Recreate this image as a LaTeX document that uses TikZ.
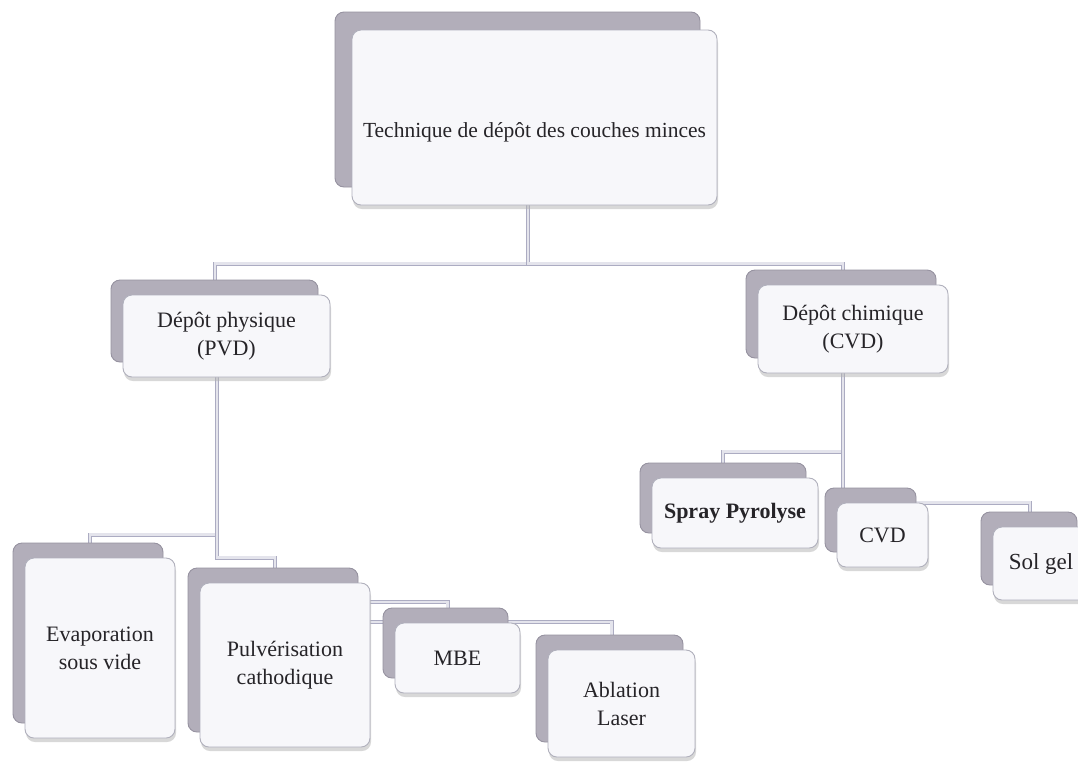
\documentclass[tikz,border=0pt]{standalone}
\usepackage{fontspec}
\setmainfont{Liberation Serif}
\usetikzlibrary{shadows,backgrounds,calc}
\definecolor{backgray}{RGB}{178,174,186}
\definecolor{backedge}{RGB}{150,146,160}
\definecolor{frontfill}{RGB}{247,247,250}
\definecolor{frontedge}{RGB}{176,176,188}
\definecolor{connedge}{RGB}{172,172,194}
\definecolor{connfill}{RGB}{228,228,236}
\definecolor{txt}{RGB}{38,36,40}
\begin{document}
\begin{tikzpicture}[x=1pt,y=-1pt,
  shad/.style 2 args={copy shadow={shadow xshift=#1, shadow yshift=#2, fill=backgray, draw=backedge, line width=0.9pt}},
  stack/.style={shad={-12pt}{15pt}},
  bigstack/.style={shad={-17pt}{18pt}},
  tbox/.style={draw=frontedge, fill=frontfill, line width=0.9pt, rounded corners=9pt,
    drop shadow={shadow xshift=1pt, shadow yshift=-4pt, fill=gray!60, opacity=0.5},
    align=center, text=txt, inner sep=0pt, font=\fontsize{22}{28}\selectfont},
  conn/.style={draw=connedge, line width=0.8pt, double=connfill, double distance=2.4pt}
]
\useasboundingbox (0,0) rectangle (1078,764);

\node[bigstack, tbox, minimum width=365pt, minimum height=175pt,
  font=\fontsize{21.5}{26}\selectfont, text height=39pt, text depth=0pt]
  (main) at (534.5,117.5) {Technique de dépôt des couches minces};

\node[stack, tbox, minimum width=207pt, minimum height=82pt] (pvd) at (226.5,336) {Dépôt physique\\(PVD)};
\node[stack, tbox, minimum width=190pt, minimum height=88pt] (cvd) at (853,329) {Dépôt chimique\\(CVD)};

\node[stack, tbox, minimum width=150pt, minimum height=180pt] (evap) at (100,648) {Evaporation\\sous vide};
\node[stack, tbox, minimum width=170pt, minimum height=164pt] (pulv) at (285,665) {Pulvérisation\\cathodique};
\node[stack, tbox, minimum width=125pt, minimum height=70pt] (mbe) at (457.5,658) {MBE};
\node[stack, tbox, minimum width=147pt, minimum height=107pt] (abl) at (621.5,703.5) {Ablation\\Laser};

\node[stack, tbox, minimum width=166pt, minimum height=70pt, font=\fontsize{22}{28}\selectfont\bfseries] (spray) at (735,513) {Spray Pyrolyse};
\node[stack, tbox, minimum width=91pt, minimum height=64pt] (cvd2) at (882.5,535) {CVD};
\node[stack, tbox, minimum width=96pt, minimum height=73pt, font=\fontsize{23}{28}\selectfont] (sol) at (1041,563.5) {Sol gel};

\begin{scope}[on background layer]
\fill[white] (0,0) rectangle (1078,764);
\draw[conn] ([xshift=-6.5pt]main.south) |- ([xshift=-11.5pt,yshift=31pt]pvd.north) -- ([xshift=-11.5pt]pvd.north);
\draw[conn] ([xshift=-6.5pt]main.south) |- ([xshift=-10pt,yshift=21pt]cvd.north) -- ([xshift=-10pt]cvd.north);
\draw[conn] ([xshift=-9.5pt]pvd.south) |- ([xshift=-10pt,yshift=23pt]evap.north) -- ([xshift=-10pt]evap.north);
\draw[conn] ([xshift=-9.5pt]pvd.south) |- ([xshift=-10pt,yshift=25pt]pulv.north) -- ([xshift=-10pt]pulv.north);
\draw[conn] ([yshift=63pt]pulv.east) -| ([xshift=-10pt]mbe.north);
\draw[conn] ([yshift=43pt]pulv.east) -| ([xshift=-10pt]abl.north);
\draw[conn] ([xshift=-10pt]cvd.south) |- ([xshift=-12pt,yshift=26pt]spray.north) -- ([xshift=-12pt]spray.north);
\draw[conn] ([xshift=-10pt]cvd.south) -- ([xshift=-39.5pt]cvd2.north);
\draw[conn] ([xshift=-10pt]cvd.south) |- ([xshift=-11pt,yshift=24pt]sol.north) -- ([xshift=-11pt]sol.north);
\end{scope}
\end{tikzpicture}
\end{document}
